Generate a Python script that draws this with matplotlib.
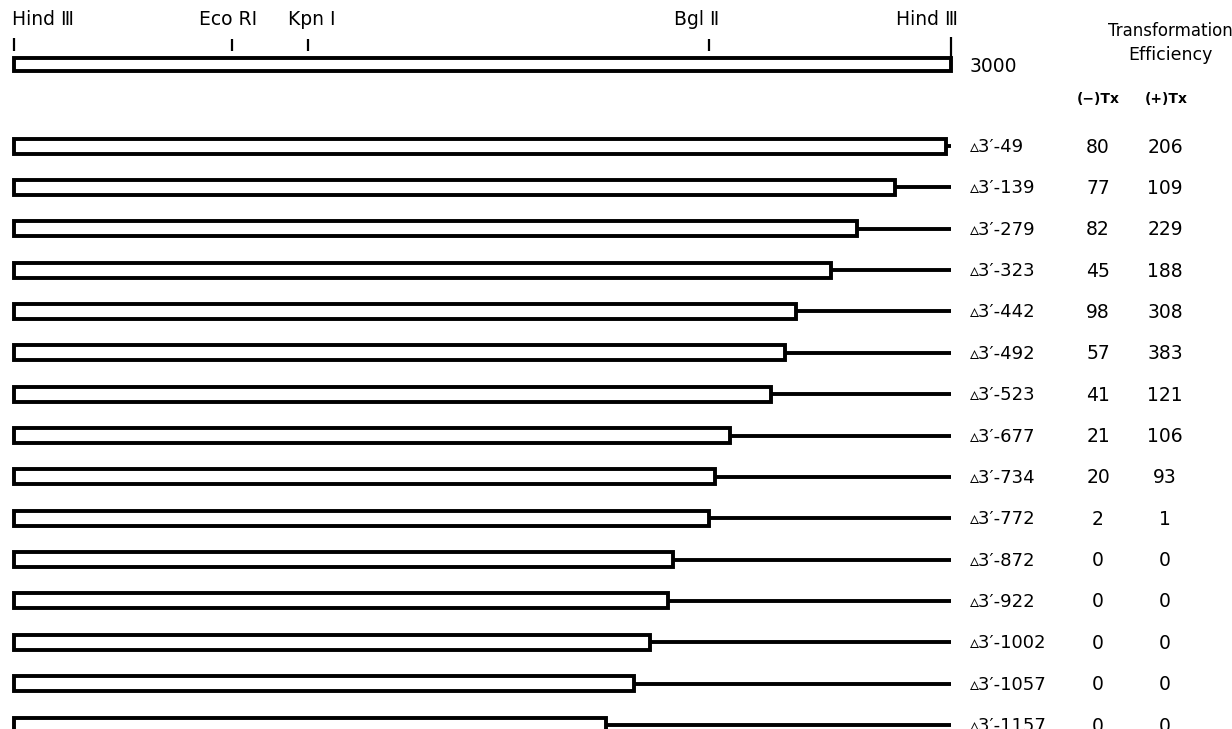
import numpy as np
import matplotlib
matplotlib.use("Agg")
import matplotlib.pyplot as plt

# deletion clones, insert end (bp along the 3000 bp HindIII fragment)
deletions = [49, 139, 279, 323, 442, 492, 523, 677, 734, 772, 872, 922, 1002, 1057, 1157]
insert_end = [2984, 2821, 2699, 2616, 2504, 2469, 2424, 2292, 2244, 2225, 2110, 2094, 2036, 1985, 1895]
eff_minus = ["80", "77", "82", "45", "98", "57", "41", "21", "20", "2", "0", "0", "0", "0", "0"]
eff_plus = ["206", "109", "229", "188", "308", "383", "121", "106", "93", "1", "0", "0", "0", "0", "0"]

# restriction sites on the map
sites = ["Hind \u2162", "Eco R\u2160", "Kpn \u2160", "Bgl \u2161", "Hind \u2162"]
site_pos = [0, 698, 941, 2225, 3000]
fragment_len = 3000

W, H = 1232, 729
fig = plt.figure(figsize=(W / 100, H / 100), dpi=100)
ax = fig.add_axes([0, 0, 1, 1])
ax.set_axis_off()

# x in bp, y in pixel rows
px_per_bp = 937 / 3000
x0 = -14 / px_per_bp
ax.set_xlim(x0, x0 + W / px_per_bp)
ax.set_ylim(H, 0)

def bp(px):
    return (px - 14) / px_per_bp

font = dict(family="DejaVu Sans", color="black")
lw = 2.8

# full map
map_y = 64
ax.barh(map_y, fragment_len, height=13, left=0, color="white", edgecolor="black", linewidth=lw)
label_x = [bp(12), bp(228), bp(312), bp(697), bp(958)]
label_ha = ["left", "center", "center", "center", "right"]
tick_top = [38, 39, 39, 39, 37]
for s, p, lx, ha, tt in zip(sites, site_pos, label_x, label_ha, tick_top):
    ax.plot([p, p], [tt, 51 if p < fragment_len else 58], color="black", lw=1.6, solid_capstyle="butt")
    ax.text(lx, 19, s, ha=ha, va="center", fontsize=13.5, **font)
ax.text(bp(970), 66, str(fragment_len), ha="left", va="center", fontsize=13.5, **font)

ax.text(bp(1170), 31, "Transformation", ha="center", va="center", fontsize=12, **font)
ax.text(bp(1170), 55, "Efficiency", ha="center", va="center", fontsize=12.5, **font)
ax.text(bp(1098), 99, "(\u2212)Tx", ha="center", va="center", fontsize=10, fontweight="bold", **font)
ax.text(bp(1166), 99, "(+)Tx", ha="center", va="center", fontsize=10, fontweight="bold", **font)

# deletion rows
rows = 146 + np.arange(len(deletions)) * 41.36
ax.barh(rows, insert_end, height=15, left=0, color="white", edgecolor="black", linewidth=lw, zorder=3)
ax.hlines(rows, insert_end, fragment_len, color="black", lw=lw, zorder=2)
for y, d, m, p in zip(rows, deletions, eff_minus, eff_plus):
    ax.text(bp(970), y + 1, "\u25b53\u2032-%d" % d, ha="left", va="center", fontsize=13, **font)
    ax.text(bp(1098), y + 1, m, ha="center", va="center", fontsize=13.5, **font)
    ax.text(bp(1165), y + 1, p, ha="center", va="center", fontsize=13.5, **font)

fig.savefig("out.png", dpi=100, facecolor="white")
